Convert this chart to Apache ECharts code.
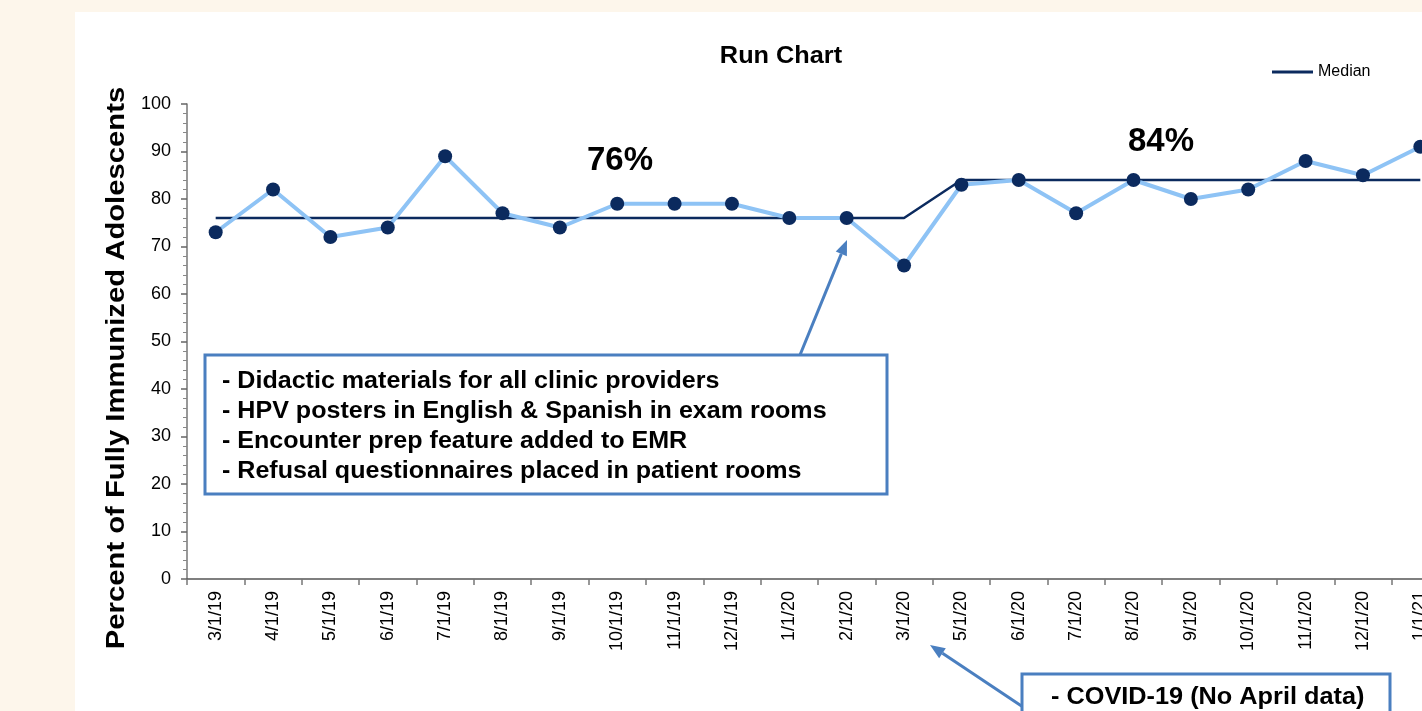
<!DOCTYPE html>
<html>
<head>
<meta charset="utf-8">
<script src="https://cdn.jsdelivr.net/npm/echarts@6/dist/echarts.min.js"></script>
<style>
  html, body { margin: 0; padding: 0; width: 1422px; height: 711px; overflow: hidden; background: #fdf6eb; }
  #panel { position: absolute; left: 75px; top: 12px; width: 1500px; height: 800px; background: #ffffff; }
  #chart { position: absolute; left: 0; top: 0; width: 1500px; height: 711px; }
</style>
</head>
<body>
<div id="panel"></div>
<div id="chart"></div>
<script>
// Monthly measurement dates (no April 2020 data)
const months = ['3/1/19','4/1/19','5/1/19','6/1/19','7/1/19','8/1/19','9/1/19','10/1/19','11/1/19','12/1/19',
  '1/1/20','2/1/20','3/1/20','5/1/20','6/1/20','7/1/20','8/1/20','9/1/20','10/1/20','11/1/20','12/1/20','1/1/21'];
// Percent of fully immunized adolescents per month
const percentImmunized = [73, 82, 72, 74, 89, 77, 74, 79, 79, 79, 76, 76, 66, 83, 84, 77, 84, 80, 82, 88, 85, 91];
// Median for each phase (76% baseline, 84% after interventions)
const medianValues = [76, 76, 76, 76, 76, 76, 76, 76, 76, 76, 76, 76, 76, 84, 84, 84, 84, 84, 84, 84, 84, 84];
const yTicks = { min: 0, max: 100, interval: 10 };

const FONT = '"Liberation Sans", Arial, sans-serif';
const ARROW = '#4a7fc0';

// Callout arrow: shaft plus a filled triangular head at (x2, y2)
function arrow(x1, y1, x2, y2) {
  const ang = Math.atan2(y2 - y1, x2 - x1);
  const len = 15, half = 6;
  const bx = x2 - len * Math.cos(ang), by = y2 - len * Math.sin(ang);
  const px = -Math.sin(ang) * half, py = Math.cos(ang) * half;
  return [
    { type: 'line', shape: { x1: x1, y1: y1, x2: bx, y2: by }, style: { stroke: ARROW, lineWidth: 3 }, z: 50 },
    { type: 'polygon', shape: { points: [[x2, y2], [bx + px, by + py], [bx - px, by - py]] }, style: { fill: ARROW }, z: 50 }
  ];
}

const chart = echarts.init(document.getElementById('chart'));
chart.setOption({
  animation: false,
  backgroundColor: 'transparent',
  legend: {
    data: ['Median'], left: 1272, top: 64, padding: 0, icon: 'rect', itemWidth: 41, itemHeight: 3, itemGap: 5,
    textStyle: { fontFamily: FONT, fontSize: 16, color: '#000' }
  },
  grid: { left: 187, top: 104, width: 1262, height: 475 },
  xAxis: {
    type: 'category', data: months, boundaryGap: true,
    axisLine: { lineStyle: { color: '#555', width: 1.5 } },
    axisTick: { show: true, length: 6, lineStyle: { color: '#777', width: 1.5 } },
    axisLabel: { rotate: 90, margin: 12, fontFamily: FONT, fontSize: 18, color: '#000', interval: 0 }
  },
  yAxis: {
    type: 'value', min: yTicks.min, max: yTicks.max, interval: yTicks.interval,
    axisLine: { show: true, lineStyle: { color: '#777', width: 1.5 } },
    axisTick: { show: true, length: 6, lineStyle: { color: '#666', width: 1.5 } },
    minorTick: { show: true, splitNumber: 5, length: 4, lineStyle: { color: '#888', width: 1 } },
    splitLine: { show: false },
    axisLabel: { margin: 16, fontFamily: FONT, fontSize: 18, color: '#000' }
  },
  series: [
    {
      name: 'Percent', type: 'line', data: percentImmunized,
      symbol: 'circle', symbolSize: 14,
      lineStyle: { color: '#8ec3f5', width: 4 },
      itemStyle: { color: '#0b2a5e' }, z: 3
    },
    {
      name: 'Median', type: 'line', data: medianValues,
      symbol: 'none',
      lineStyle: { color: '#0b2a5e', width: 2.5 },
      itemStyle: { color: '#0b2a5e' }, z: 2
    }
  ],
  graphic: [
    {
      type: 'text', x: 781, y: 57, scaleX: 1.1,
      style: { text: 'Run Chart', fontFamily: FONT, fontSize: 23, fontWeight: 'bold', fill: '#000', align: 'center', verticalAlign: 'middle' }
    },
    {
      type: 'text', x: 117, y: 368, rotation: Math.PI / 2, scaleX: 1.17,
      style: { text: 'Percent of Fully Immunized Adolescents', fontFamily: FONT, fontSize: 25, fontWeight: 'bold', fill: '#000', align: 'center', verticalAlign: 'middle' }
    },
    {
      type: 'text', x: 620, y: 161,
      style: { text: '76%', fontFamily: FONT, fontSize: 33, fontWeight: 'bold', fill: '#000', align: 'center', verticalAlign: 'middle' }
    },
    {
      type: 'text', x: 1161, y: 142,
      style: { text: '84%', fontFamily: FONT, fontSize: 33, fontWeight: 'bold', fill: '#000', align: 'center', verticalAlign: 'middle' }
    },
    ...arrow(800, 355, 847, 240),
    {
      type: 'rect', shape: { x: 205, y: 355, width: 682, height: 139 },
      style: { fill: '#fff', stroke: ARROW, lineWidth: 3 }, z: 60
    },
    {
      type: 'text', x: 222, y: 367, z: 61, scaleX: 1.09,
      style: {
        text: '- Didactic materials for all clinic providers\n- HPV posters in English & Spanish in exam rooms\n- Encounter prep feature added to EMR\n- Refusal questionnaires placed in patient rooms',
        fontFamily: FONT, fontSize: 23, fontWeight: 'bold', fill: '#000', lineHeight: 30
      }
    },
    ...arrow(1023, 707, 930, 645),
    {
      type: 'rect', shape: { x: 1022, y: 674, width: 368, height: 60 },
      style: { fill: '#fff', stroke: ARROW, lineWidth: 3 }, z: 60
    },
    {
      type: 'text', x: 1051, y: 698, z: 61, scaleX: 1.1,
      style: { text: '- COVID-19 (No April data)', fontFamily: FONT, fontSize: 23, fontWeight: 'bold', fill: '#000', verticalAlign: 'middle' }
    }
  ]
});
</script>
</body>
</html>
